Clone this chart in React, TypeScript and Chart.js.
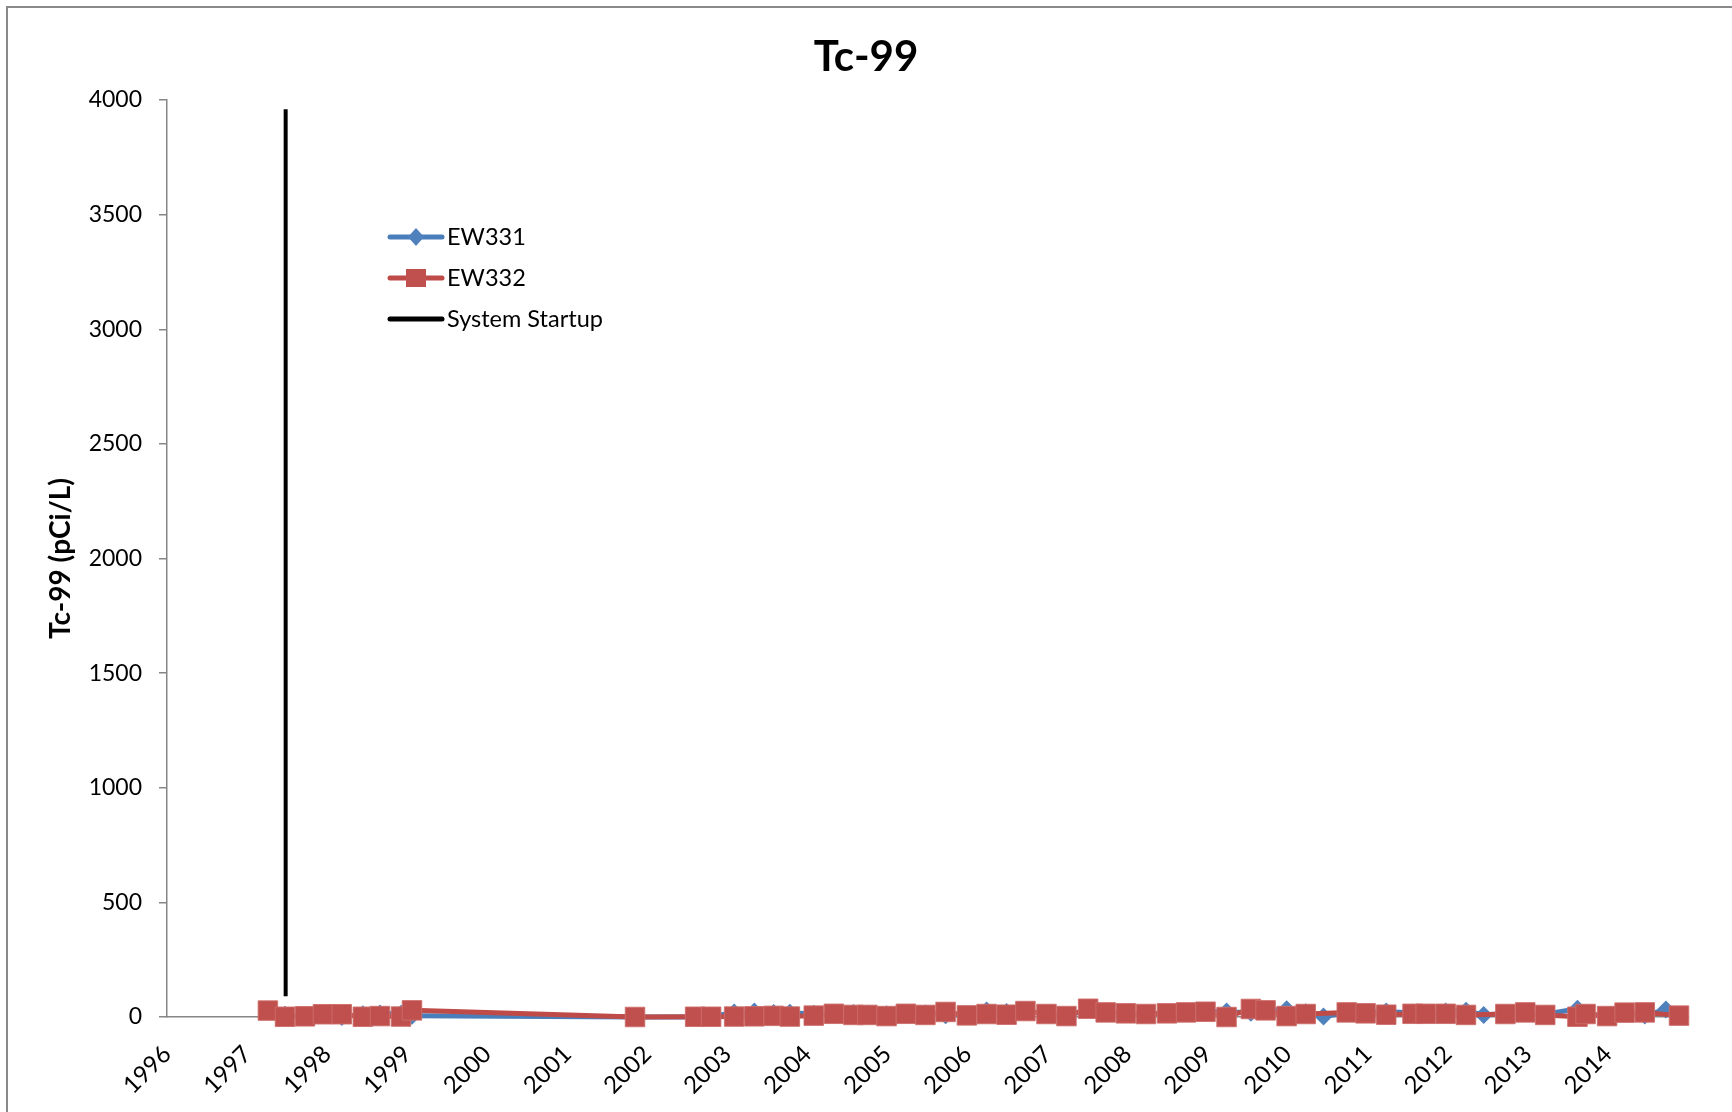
import React, { useEffect, useRef } from 'react';
import { Chart, registerables } from 'chart.js';

Chart.register(...registerables);

const CHART_TITLE = 'Tc-99';
const Y_TITLE = 'Tc-99 (pCi/L)';
const yearTicks = [1996, 1997, 1998, 1999, 2000, 2001, 2002, 2003, 2004, 2005, 2006, 2007, 2008, 2009, 2010, 2011, 2012, 2013, 2014];
const xRange = [1996, 2015];
const yRange = [0, 4000];
const yStep = 500;
const legendLabels = ['EW331', 'EW332', 'System Startup'];

const ew332Dates = [
  '1997-04-06', '1997-06-23', '1997-09-22', '1997-12-13', '1998-03-09', '1998-06-13', '1998-08-30', '1998-12-04', '1999-01-23',
  '2001-11-06', '2002-08-07', '2002-10-19', '2003-02-01', '2003-05-04', '2003-07-31', '2003-10-13', '2004-01-30', '2004-05-01',
  '2004-07-29', '2004-10-01', '2004-12-28', '2005-03-26', '2005-06-23', '2005-09-23', '2005-12-29', '2006-03-29', '2006-06-28',
  '2006-09-22', '2006-12-27', '2007-03-28', '2007-07-05', '2007-09-23', '2007-12-24', '2008-03-25', '2008-06-29', '2008-09-24',
  '2008-12-22', '2009-03-28', '2009-07-17', '2009-09-22', '2009-12-27', '2010-03-24', '2010-09-27', '2010-12-22', '2011-03-26',
  '2011-07-24', '2011-09-22', '2011-12-22', '2012-03-24', '2012-09-20', '2012-12-20', '2013-03-21', '2013-08-15', '2013-09-21',
  '2013-12-28', '2014-03-18', '2014-06-18', '2014-11-21',
];
const ew332Values = [
  28, 1, 3, 12, 12, 1, 4, 2, 29,
  0, 1, 1, 2, 3, 5, 2, 6, 14,
  9, 9, 4, 14, 9, 22, 7, 13, 10,
  26, 13, 4, 36, 20, 16, 13, 16, 20,
  23, 0, 35, 29, 4, 13, 20, 16, 10,
  14, 14, 14, 9, 13, 20, 9, 1, 13,
  4, 19, 20, 6,
];

const ew331Dates = [
  '1997-04-06', '1997-06-23', '1997-09-22', '1997-12-13', '1998-03-09', '1998-06-13', '1998-08-30', '1998-12-04', '1999-01-23',
  '2001-11-06', '2002-08-07', '2002-10-19', '2003-02-01', '2003-05-04', '2003-07-31', '2003-10-13', '2004-01-30', '2004-05-01',
  '2004-07-29', '2004-10-01', '2004-12-28', '2005-03-26', '2005-06-23', '2005-09-23', '2005-12-29', '2006-03-29', '2006-06-28',
  '2006-09-22', '2006-12-27', '2007-03-28', '2007-07-05', '2007-09-23', '2007-12-24', '2008-03-25', '2008-06-29', '2008-09-24',
  '2008-12-22', '2009-03-28', '2009-07-17', '2009-09-22', '2009-12-27', '2010-03-24', '2010-06-13', '2010-09-27', '2010-12-22',
  '2011-03-26', '2011-07-24', '2011-09-22', '2011-12-22', '2012-03-24', '2012-06-13', '2012-09-20', '2012-12-20', '2013-03-21',
  '2013-08-15', '2013-09-21', '2013-12-28', '2014-03-18', '2014-06-18', '2014-09-22', '2014-11-21',
];
const ew331Values = [
  30, 10, 4, 16, 0, 12, 15, 14, 5,
  0, 0, 1, 20, 24, 17, 18, 14, 16,
  17, 14, 12, 18, 15, 8, 12, 28, 22,
  26, 13, 0, 36, 20, 16, 14, 16, 20,
  23, 24, 18, 29, 34, 21, 2, 20, 22,
  24, 18, 14, 24, 27, 9, 15, 20, 12,
  36, 13, 4, 18, 6, 33, 6,
];

const startupDate = '1997-06-26';
const startupValues = [90, 3960];

const BLUE_LINE = '#4A7EBB';
const BLUE_MARK = '#4F81BD';
const RED_LINE = '#BE4B48';
const RED_MARK = '#C0504D';
const AXIS = '#868686';
const FONT = 'Lato';

function toYear(s: string): number {
  const [y, m, d] = s.split('-').map(Number);
  const start = Date.UTC(y, 0, 1);
  const end = Date.UTC(y + 1, 0, 1);
  return y + (Date.UTC(y, m - 1, d) - start) / (end - start);
}

const framePlugin = {
  id: 'frame',
  beforeDraw(chart: any) {
    const { ctx, width, height } = chart;
    ctx.save();
    ctx.fillStyle = '#ffffff';
    ctx.fillRect(0, 0, width, height);
    ctx.strokeStyle = '#8a8a8a';
    ctx.lineWidth = 2;
    ctx.beginPath();
    ctx.moveTo(7, height + 5);
    ctx.lineTo(7, 7);
    ctx.lineTo(width + 5, 7);
    ctx.stroke();
    ctx.restore();
  },
};

const legendPlugin = {
  id: 'excelLegend',
  afterDraw(chart: any) {
    const ctx = chart.ctx;
    const x0 = 390;
    const x1 = 442;
    const mx = 416;
    const tx = 447;
    const ys = [237, 278, 319];
    ctx.save();
    ctx.lineCap = 'round';
    ctx.lineWidth = 5;
    // EW331
    ctx.strokeStyle = BLUE_LINE;
    ctx.beginPath();
    ctx.moveTo(x0, ys[0]);
    ctx.lineTo(x1, ys[0]);
    ctx.stroke();
    ctx.fillStyle = BLUE_MARK;
    ctx.beginPath();
    ctx.moveTo(mx, ys[0] - 9);
    ctx.lineTo(mx + 8, ys[0]);
    ctx.lineTo(mx, ys[0] + 9);
    ctx.lineTo(mx - 8, ys[0]);
    ctx.closePath();
    ctx.fill();
    // EW332
    ctx.strokeStyle = RED_LINE;
    ctx.beginPath();
    ctx.moveTo(x0, ys[1]);
    ctx.lineTo(x1, ys[1]);
    ctx.stroke();
    ctx.fillStyle = RED_MARK;
    ctx.fillRect(mx - 10, ys[1] - 9, 20, 18);
    // Startup
    ctx.strokeStyle = '#000000';
    ctx.beginPath();
    ctx.moveTo(x0, ys[2]);
    ctx.lineTo(x1, ys[2]);
    ctx.stroke();
    // labels
    ctx.fillStyle = '#000000';
    ctx.font = `23.5px ${FONT}`;
    ctx.textBaseline = 'middle';
    ctx.textAlign = 'left';
    legendLabels.forEach((t, i) => ctx.fillText(t, tx, ys[i]));
    ctx.restore();
  },
};

export default function App() {
  const ref = useRef<HTMLCanvasElement | null>(null);

  useEffect(() => {
    if (!ref.current) return;
    const blue = ew331Dates.map((d, i) => ({ x: toYear(d), y: ew331Values[i] }));
    const red = ew332Dates.map((d, i) => ({ x: toYear(d), y: ew332Values[i] }));
    const sx = toYear(startupDate);
    const startup = startupValues.map((v) => ({ x: sx, y: v }));

    const chart = new Chart(ref.current, {
      type: 'line',
      data: {
        datasets: [
          {
            label: legendLabels[0],
            data: blue,
            order: 2,
            borderColor: BLUE_LINE,
            backgroundColor: BLUE_MARK,
            borderWidth: 5,
            pointStyle: 'rectRot',
            pointRadius: 9,
            pointBorderWidth: 0,
            pointBackgroundColor: BLUE_MARK,
            pointBorderColor: BLUE_MARK,
            borderJoinStyle: 'round',
            borderCapStyle: 'round',
            tension: 0,
            clip: false as any,
          },
          {
            label: legendLabels[1],
            data: red,
            order: 1,
            borderColor: RED_LINE,
            backgroundColor: RED_MARK,
            borderWidth: 5,
            pointStyle: 'rect',
            pointRadius: 13.8,
            pointBorderWidth: 1,
            pointBackgroundColor: RED_MARK,
            pointBorderColor: 'rgba(205,110,108,0.9)',
            borderJoinStyle: 'round',
            borderCapStyle: 'round',
            tension: 0,
            clip: false as any,
          },
          {
            label: legendLabels[2],
            data: startup,
            order: 0,
            borderColor: '#000000',
            borderWidth: 4,
            pointRadius: 0,
            borderCapStyle: 'butt',
            clip: false as any,
          },
        ],
      },
      options: {
        responsive: false,
        animation: false,
        devicePixelRatio: 1,
        layout: { padding: { top: 0, left: 44, right: 44, bottom: 0 } },
        plugins: {
          legend: { display: false },
          tooltip: { enabled: false },
          title: {
            display: true,
            text: CHART_TITLE,
            color: '#000000',
            font: { family: FONT, size: 42, weight: 'bold', lineHeight: 1.2 },
            padding: { top: 31.8, bottom: 17.8 },
          },
        },
        scales: {
          x: {
            type: 'linear',
            position: 'bottom',
            min: xRange[0],
            max: xRange[1],
            afterBuildTicks: (s: any) => {
              s.ticks = yearTicks.map((v) => ({ value: v }));
            },
            afterFit: (s: any) => {
              s.height = 95;
            },
            grid: { display: false, drawTicks: false, drawOnChartArea: false },
            border: { display: true, color: AXIS, width: 1.5 },
            ticks: {
              autoSkip: false,
              minRotation: 45,
              maxRotation: 45,
              padding: 23,
              color: '#000000',
              font: { family: FONT, size: 24 },
              callback: (v: any) => String(v),
            },
          },
          y: {
            type: 'linear',
            position: 'left',
            min: yRange[0],
            max: yRange[1],
            afterFit: (s: any) => {
              s.width = 123;
            },
            grid: { display: true, drawOnChartArea: false, drawTicks: true, tickLength: 8, color: AXIS, lineWidth: 1.5 },
            border: { display: true, color: AXIS, width: 1.5 },
            ticks: {
              stepSize: yStep,
              padding: 17,
              color: '#000000',
              font: { family: FONT, size: 23 },
              callback: (v: any) => String(v),
            },
            title: {
              display: true,
              text: Y_TITLE,
              color: '#000000',
              font: { family: FONT, size: 28, weight: 'bold', lineHeight: 1.2 },
              padding: { top: 0.2, bottom: 0 },
            },
          },
        },
      },
      plugins: [framePlugin, legendPlugin],
    } as any);

    return () => chart.destroy();
  }, []);

  return (
    <div style={{ position: 'fixed', left: 0, top: 0, width: 1732, height: 1112, overflow: 'hidden', background: '#fff' }}>
      <canvas ref={ref} width={1732} height={1112} style={{ display: 'block', width: 1732, height: 1112 }} />
    </div>
  );
}
